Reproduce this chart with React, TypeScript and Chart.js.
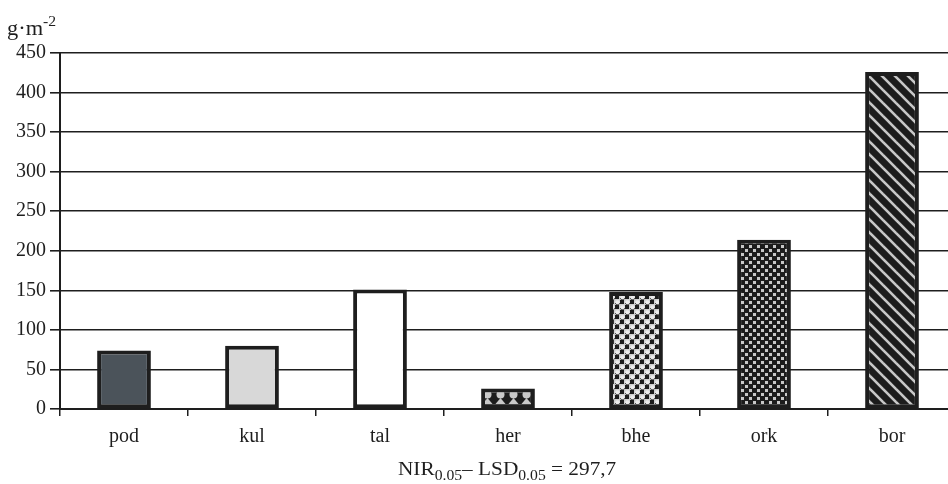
import React, { useEffect, useRef } from "react";
import { Chart, registerables } from "chart.js";

Chart.register(...registerables);

const categories = ["pod", "kul", "tal", "her", "bhe", "ork", "bor"];
const values = [74, 80, 151, 26, 148, 214, 426];
const yMin = 0;
const yMax = 450;
const yStep = 50;

const FONT = "'Liberation Serif', 'Times New Roman', serif";
const INK = "#1e1e1e";

function tile(main: CanvasRenderingContext2D, w: number, h: number, draw: (c: CanvasRenderingContext2D) => void) {
  const cv = document.createElement("canvas");
  cv.width = w;
  cv.height = h;
  const c = cv.getContext("2d") as CanvasRenderingContext2D;
  draw(c);
  return main.createPattern(cv, "repeat") as CanvasPattern;
}

function makeFills(ctx: CanvasRenderingContext2D) {
  const her = tile(ctx, 13, 15, (c) => {
    c.fillStyle = "#1c1c1c";
    c.fillRect(0, 0, 13, 15);
    c.fillStyle = "#c9c9c9";
    c.beginPath();
    c.arc(6.5, 4.5, 4, 0, Math.PI * 2);
    c.fill();
    c.beginPath();
    c.moveTo(6.5, 8);
    c.lineTo(1.5, 14);
    c.lineTo(11.5, 14);
    c.closePath();
    c.fill();
  });
  const bhe = tile(ctx, 10, 10, (c) => {
    c.fillStyle = "#cfcfcf";
    c.fillRect(0, 0, 10, 10);
    c.fillStyle = "#1c1c1c";
    c.fillRect(0, 0, 4, 4);
    c.fillRect(5, 5, 4, 4);
    c.fillStyle = "#ececec";
    c.beginPath();
    c.arc(7.5, 2.5, 2.3, 0, Math.PI * 2);
    c.fill();
    c.beginPath();
    c.arc(2.5, 7.5, 2.3, 0, Math.PI * 2);
    c.fill();
    c.strokeStyle = "#555";
    c.lineWidth = 1;
    c.beginPath();
    c.arc(7.5, 2.5, 2.3, 0.2, Math.PI - 0.2);
    c.stroke();
    c.beginPath();
    c.arc(2.5, 7.5, 2.3, 0.2, Math.PI - 0.2);
    c.stroke();
  });
  const ork = tile(ctx, 8, 8, (c) => {
    c.fillStyle = "#1c1c1c";
    c.fillRect(0, 0, 8, 8);
    c.fillStyle = "#c8c8c8";
    c.fillRect(1, 1, 3, 3);
    c.fillRect(5, 5, 3, 3);
  });
  const bor = tile(ctx, 13, 13, (c) => {
    c.fillStyle = "#1c1c1c";
    c.fillRect(0, 0, 13, 13);
    c.strokeStyle = "#c8c8c8";
    c.lineWidth = 2.6;
    for (let k = -1; k <= 1; k++) {
      c.beginPath();
      c.moveTo(k * 13 - 2, -2);
      c.lineTo(k * 13 + 15, 15);
      c.stroke();
    }
  });
  return ["#4b535a", "#d8d8d8", "#ffffff", her, bhe, ork, bor];
}

export default function App() {
  const ref = useRef<HTMLCanvasElement | null>(null);

  useEffect(() => {
    const canvas = ref.current;
    if (!canvas) return;
    const ctx = canvas.getContext("2d") as CanvasRenderingContext2D;
    const fills = makeFills(ctx);
    const chart = new Chart(canvas, {
      type: "bar",
      data: {
        labels: categories,
        datasets: [
          {
            data: values,
            backgroundColor: fills as any,
            borderColor: INK,
            borderWidth: 4,
            borderSkipped: false,
            barPercentage: 0.42,
            categoryPercentage: 1,
          },
        ],
      },
      options: {
        animation: false,
        responsive: false,
        maintainAspectRatio: false,
        layout: { padding: { top: 53, right: 4, left: 0, bottom: 0 } },
        plugins: { legend: { display: false }, tooltip: { enabled: false } },
        scales: {
          x: {
            grid: {
              offset: true,
              drawOnChartArea: false,
              drawTicks: true,
              tickLength: 7,
              color: INK,
              lineWidth: 1.5,
            },
            border: { display: true, color: INK, width: 2 },
            ticks: { font: { family: FONT, size: 20 }, color: INK, padding: 9 },
            afterFit: (s: any) => {
              s.height = 75;
            },
          },
          y: {
            min: yMin,
            max: yMax,
            ticks: { stepSize: yStep, font: { family: FONT, size: 20 }, color: INK, padding: 4 },
            grid: { color: INK, lineWidth: 1.6, tickLength: 10 },
            border: { display: true, color: INK, width: 2 },
            afterFit: (s: any) => {
              s.width = 60;
            },
          },
        },
      },
    });
    return () => chart.destroy();
  }, []);

  return (
    <div
      style={{
        position: "fixed",
        left: 0,
        top: 0,
        width: 948,
        height: 484,
        overflow: "hidden",
        background: "#fff",
        fontFamily: FONT,
        color: INK,
      }}
    >
      <canvas ref={ref} width={960} height={484} style={{ display: "block", width: 960, height: 484 }} />
      <div
        style={{
          position: "absolute",
          left: 7,
          top: 11,
          fontSize: 20,
          lineHeight: "22px",
          whiteSpace: "nowrap",
          transform: "scaleX(1.12)",
          transformOrigin: "left top",
        }}
      >
        g·m<sup style={{ fontSize: 14, verticalAlign: "9px" }}>-2</sup>
      </div>
      <div
        style={{
          position: "absolute",
          left: 398,
          top: 458,
          fontSize: 19,
          lineHeight: "22px",
          whiteSpace: "nowrap",
          transform: "scaleX(1.12)",
          transformOrigin: "left top",
        }}
      >
        NIR<sub style={{ fontSize: 14, verticalAlign: "-5px" }}>0.05</sub>– LSD
        <sub style={{ fontSize: 14, verticalAlign: "-5px" }}>0.05</sub> = 297,7
      </div>
    </div>
  );
}
